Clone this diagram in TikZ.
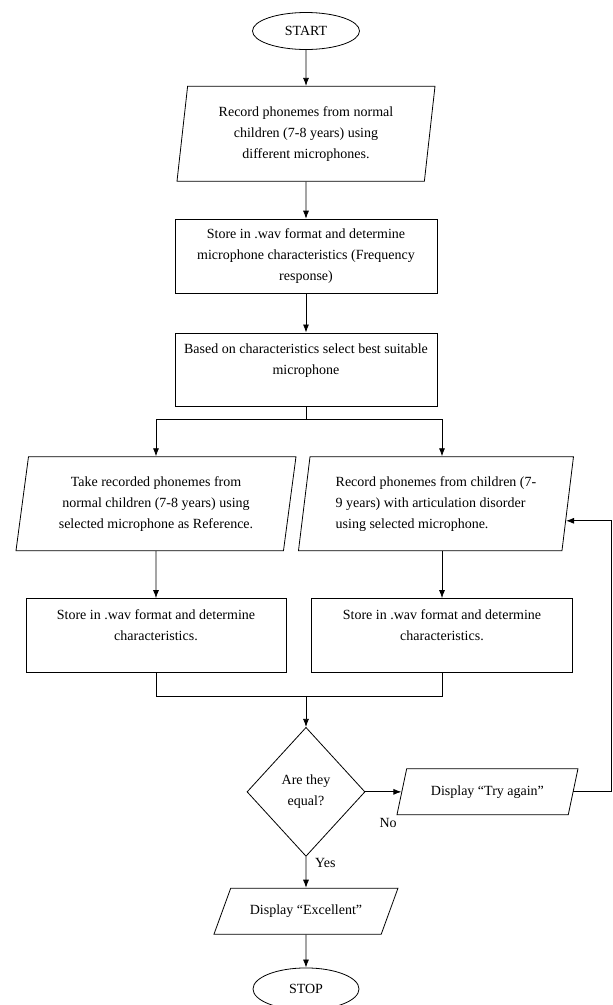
\documentclass[tikz,border=0pt]{standalone}
\usepackage{fontspec}
\setmainfont{Liberation Serif}
\usetikzlibrary{positioning,shapes.geometric,arrows.meta,calc}
\tikzset{basic/.style={draw,line width=0.8pt,font=\fontsize{14}{21}\selectfont,align=center}}
\tikzset{terminal/.style={basic,ellipse,minimum width=107pt,minimum height=37pt}}
\tikzset{process/.style={basic,rectangle,minimum width=262pt,minimum height=74pt}}
\tikzset{io/.style={basic,trapezium,trapezium stretches body}}
\tikzset{decision/.style={basic,diamond,minimum width=118pt,minimum height=129pt,inner sep=0pt}}
\tikzset{link/.style={draw,line width=0.8pt}}
\tikzset{flow/.style={link,-{Latex[length=8pt,width=6pt]}}}
\tikzset{answer/.style={font=\fontsize{14}{21}\selectfont,inner sep=0pt}}

\begin{document}
\begin{tikzpicture}[x=1pt,y=1pt]
    \useasboundingbox (0,0) rectangle (613,-1005);
        \coordinate (edge) at (611,0);
        \node[terminal] (start) at (306,-31) {START};
        \node[io,below=36pt of start,minimum width=258pt,minimum height=95pt,
              trapezium left angle=80.2,trapezium right angle=99.8] (p1)
              {Record phonemes from normal\\children (7-8 years) using\\different microphones.};
            \path[flow] (start) -- (p1);
        \node[process,below=37pt of p1] (b2)
              {Store in .wav format and determine\\microphone characteristics (Frequency\\response)};
            \path[flow] (p1) -- (b2);
        \node[process,below=39pt of b2,minimum height=73pt] (b3)
              {Based on characteristics select best suitable\\microphone\\~};
            \path[flow] (b2) -- (b3);
        \coordinate[below=13pt of b3] (split);
        % left branch
        \node[io,below=50pt of b3,xshift=-150pt,minimum width=280pt,minimum height=94pt,
              trapezium left angle=78.5,trapezium right angle=101.5] (lp)
              {Take recorded phonemes from\\normal children (7-8 years) using\\selected microphone as Reference.};
            \path[flow] (b3.south) -- (split) -| (lp.north);
        \node[process,below=47pt of lp,minimum width=260pt] (lb)
              {Store in .wav format and determine\\characteristics.\\~};
            \path[flow] (lp) -- (lb);
        % right branch
        \node[io,below=50pt of b3,xshift=130pt,minimum width=275pt,minimum height=94pt,
              trapezium left angle=79.4,trapezium right angle=100.6,align=left] (rp)
              {Record phonemes from children (7-\\9 years) with articulation disorder\\using selected microphone.};
        \node[process,below=47pt of rp,xshift=6pt,minimum width=261pt] (rb)
              {Store in .wav format and determine\\characteristics.\\~};
            \path[flow] (split) -| (rp.north -| rb);
            \path[flow] (rp.south -| rb) -- (rb.north);
        % join and test
        \coordinate (merge) at ($(split |- lb.south)+(0,-23)$);
            \path[link] (lb.south) |- (merge);
            \path[link] (rb.south) |- (merge);
        \node[decision,below=31pt of merge] (dia) {Are they\\equal?};
            \path[flow] (merge) -- (dia.north);
        \node[io,right=36pt of dia,minimum width=181pt,minimum height=46pt,
              trapezium left angle=63.4,trapezium right angle=116.6] (ta) {Display “Try again”};
            \path[flow] (dia.east) -- (ta.west);
        \node[answer,below right=26pt and 14pt of dia.east] (no) {No};
        \coordinate (loop) at (ta.east -| edge);
        \coordinate (back) at ($(rp.bottom right corner)!0.32!(rp.top right corner)$);
            \path[flow] (ta.east) -- (loop) |- (back);
        \node[io,below=31pt of dia,minimum width=184pt,minimum height=46pt,
              trapezium left angle=49.2,trapezium right angle=130.8] (ex) {Display “Excellent”};
            \path[flow] (dia) -- (ex);
        \node[answer,below right=1pt and 9pt of dia.south] (yes) {Yes};
        \node[terminal,below=33pt of ex,minimum width=106pt,minimum height=42pt] (stop) {STOP};
            \path[flow] (ex) -- (stop);
\end{tikzpicture}
\end{document}
